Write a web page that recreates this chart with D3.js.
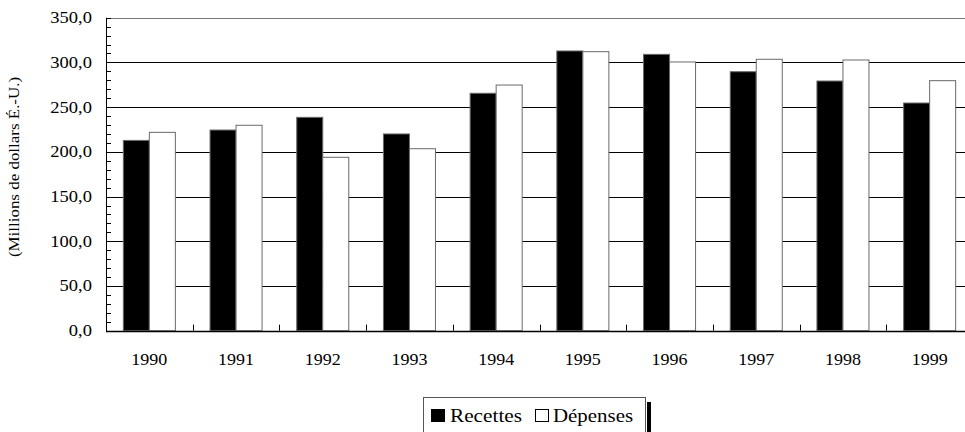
<!DOCTYPE html>
<html><head><meta charset="utf-8">
<script src="https://cdn.jsdelivr.net/npm/d3@7"></script>
</head>
<body style="margin:0">
<svg id="chart" width="965" height="432"></svg>
<script>
const years = ["1990","1991","1992","1993","1994","1995","1996","1997","1998","1999"];
const recettes = [212.8, 224.4, 238.6, 220.0, 265.5, 312.8, 309.0, 289.6, 279.2, 254.6];
const depenses = [221.8, 229.7, 193.9, 203.5, 274.7, 312.0, 300.5, 303.5, 302.7, 279.6];
const seriesNames = ["Recettes", "Dépenses"];
const seriesColors = ["#000000", "#ffffff"];
const yTicks = [0, 50, 100, 150, 200, 250, 300, 350];
const yMinorTicks = d3.range(0, 351, 10);
const yTitle = "(Millions de dollars É.-U.)";

const FONT = "Liberation Serif";
const svg = d3.select("#chart");
const fmt = v => v.toFixed(1).replace(".", ",");

const x = d3.scaleBand().domain(years).range([106, 973]).paddingInner(0).paddingOuter(0);
const xs = d3.scaleBand().domain(seriesNames).range([0, x.bandwidth()]).paddingInner(0).paddingOuter(2/3);
const y = d3.scaleLinear().domain([0, 350]).range([330.7, 17.7]);

function serif(sel, size) {
  return sel.attr("font-family", FONT).attr("font-size", size)
    .style("font-family", FONT, "important").style("font-size", size + "px", "important")
    .style("font-weight", "normal");
}

// gridlines
svg.append("g").selectAll("line").data(yTicks.filter(d => d > 0)).join("line")
  .attr("x1", 106).attr("x2", 965)
  .attr("y1", d => Math.round(y(d)) + 0.5).attr("y2", d => Math.round(y(d)) + 0.5)
  .attr("stroke", d => d === 350 ? "#777" : "#000").attr("stroke-width", 1);

// bars
const data = years.map((yr, i) => ({year: yr, vals: [recettes[i], depenses[i]]}));
const g = svg.append("g").selectAll("g").data(data).join("g")
  .attr("transform", d => `translate(${x(d.year)},0)`);
g.selectAll("rect").data(d => d.vals.map((v, k) => ({v, k}))).join("rect")
  .attr("x", d => xs(seriesNames[d.k]))
  .attr("width", xs.bandwidth())
  .attr("y", d => y(d.v))
  .attr("height", d => y(0) - y(d.v))
  .attr("fill", d => seriesColors[d.k])
  .attr("stroke", "#6a6a6a").attr("stroke-width", 1);

// y axis line and minor ticks
const yl = svg.append("g");
yl.append("line").attr("x1", 106.5).attr("x2", 106.5).attr("y1", y(350)).attr("y2", y(0) + 1)
  .attr("stroke", "#000");
yl.selectAll("line.minor").data(yMinorTicks).join("line").attr("class", "minor")
  .attr("x1", 106).attr("x2", 111)
  .attr("y1", d => Math.round(y(d)) + 0.5).attr("y2", d => Math.round(y(d)) + 0.5)
  .attr("stroke", "#000");
serif(yl.selectAll("text").data(yTicks).join("text"), 17)
  .attr("transform", d => `translate(92,${y(d) + 5.5}) scale(1.09,1)`)
  .attr("text-anchor", "end").attr("fill", "#000")
  .text(d => fmt(d));

// x axis
const xl = svg.append("g");
xl.append("line").attr("x1", 106).attr("x2", 965).attr("y1", Math.round(y(0)) + 0.5).attr("y2", Math.round(y(0)) + 0.5)
  .attr("stroke", "#000").attr("stroke-width", 1.5);
xl.selectAll("line.tick").data(years.slice(1)).join("line").attr("class", "tick")
  .attr("x1", d => Math.round(x(d)) + 0.5).attr("x2", d => Math.round(x(d)) + 0.5)
  .attr("y1", y(0)).attr("y2", y(0) - 6).attr("stroke", "#000");
serif(xl.selectAll("text").data(years).join("text"), 17)
  .attr("transform", d => `translate(${x(d) + x.bandwidth() / 2},365) scale(1.06,1)`)
  .attr("text-anchor", "middle").attr("fill", "#000")
  .text(d => d);

// y title
serif(svg.append("text"), 15).attr("transform", "translate(19,167) rotate(-90) scale(1.13,1)")
  .attr("text-anchor", "middle").attr("fill", "#000")
  .text(yTitle);

// legend
const lg = svg.append("g");
lg.append("rect").attr("x", 647).attr("y", 402).attr("width", 4).attr("height", 40).attr("fill", "#000");
lg.append("rect").attr("x", 423.5).attr("y", 397.5).attr("width", 222).attr("height", 45)
  .attr("fill", "#fff").attr("stroke", "#555");
const items = [{name: seriesNames[0], sx: 431, tx: 450, sc: 1.15}, {name: seriesNames[1], sx: 535, tx: 553, sc: 1.13}];
items.forEach((it, i) => {
  lg.append("rect").attr("x", it.sx + 0.5).attr("y", 409.5).attr("width", 13).attr("height", 12)
    .attr("fill", seriesColors[i]).attr("stroke", "#000");
  serif(lg.append("text"), 18.5).attr("transform", `translate(${it.tx},422) scale(${it.sc},1)`)
    .attr("fill", "#000").text(it.name);
});
</script>
</body></html>
